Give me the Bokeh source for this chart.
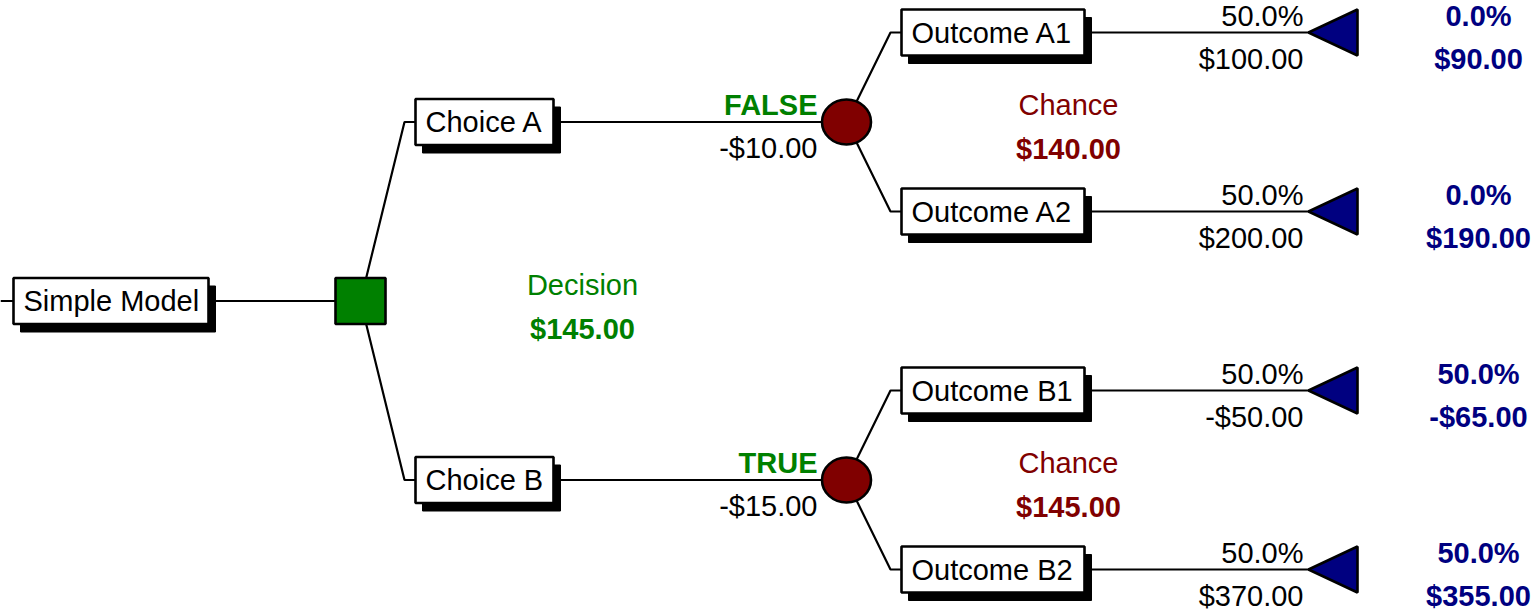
from bokeh.plotting import figure
from bokeh.models import Range1d, ColumnDataSource
from bokeh.core.properties import value
from bokeh.embed import file_html
from bokeh.resources import INLINE

# ---------------- data ----------------
root_name = "Simple Model"
decision_label = "Decision"
decision_value = 145.00
choice_names = ["Choice A", "Choice B"]
choice_flags = ["FALSE", "TRUE"]
choice_costs = [-10.00, -15.00]
chance_label = "Chance"
chance_values = [140.00, 145.00]
outcome_names = ["Outcome A1", "Outcome A2", "Outcome B1", "Outcome B2"]
outcome_parent = [0, 0, 1, 1]
outcome_probs = [50.0, 50.0, 50.0, 50.0]
outcome_payoffs = [100.00, 200.00, -50.00, 370.00]
path_probs = [0.0, 0.0, 50.0, 50.0]
path_values = [90.00, 190.00, -65.00, 355.00]


def money(v):
    return ("-" if v < 0 else "") + "${:,.2f}".format(abs(v))


def pct(v):
    return "{:.1f}%".format(v)


# ---------------- layout (picture pixels) ----------------
ROW0, ROW_STEP = 32, 179
BOX_H = 46
ROOT_BOX = (13, 208)
SQ_X, SQ_W, SQ_H = 360, 50, 46
ELBOW1 = 404
CHOICE_BOX = (415, 553)
CIRC_X, CIRC_W, CIRC_H = 846, 49, 45
ELBOW2 = 890
OUT_BOX = (901, 1084)
TRI_TIP, TRI_RIGHT, TRI_HALF = 1308, 1357, 23
PAD = 10
ABOVE, BELOW = -17, 26
RIGHT_COL = 1478
DEC_LABEL_X = 582
CHANCE_LABEL_X = 1068
SH_DX, SH_DY = 7, 8
LINE_W = 2.2
BORDER_W = 2.6

GREEN = "#008000"
DARKRED = "#800000"
NAVY = "#000080"
FONT = value("Liberation Sans")
FS = value("29px")

out_y = [ROW0 + i * ROW_STEP for i in range(len(outcome_names))]
choice_y = []
for c in range(len(choice_names)):
    ys = [out_y[i] for i in range(len(outcome_names)) if outcome_parent[i] == c]
    choice_y.append(sum(ys) / len(ys))
root_y = sum(choice_y) / len(choice_y)

W, H = 1531, 612
p = figure(width=W, height=H, x_range=Range1d(0, W), y_range=Range1d(H, 0),
           output_backend="svg", toolbar_location=None,
           x_axis_location=None, y_axis_location=None,
           min_border=0, min_border_left=0, min_border_right=0,
           min_border_top=0, min_border_bottom=0)
p.grid.visible = False
p.outline_line_color = None
p.background_fill_color = "white"
p.border_fill_color = "white"

# ---------------- connection lines ----------------
xs, ys = [], []
xs.append([0, ROOT_BOX[0]]); ys.append([root_y, root_y])
xs.append([ROOT_BOX[1], SQ_X]); ys.append([root_y, root_y])
for c, cy in enumerate(choice_y):
    xs.append([SQ_X, ELBOW1, CHOICE_BOX[0]]); ys.append([root_y, cy, cy])
    xs.append([CHOICE_BOX[1], CIRC_X]); ys.append([cy, cy])
for i, oy in enumerate(out_y):
    cy = choice_y[outcome_parent[i]]
    xs.append([CIRC_X, ELBOW2, OUT_BOX[0]]); ys.append([cy, oy, oy])
    xs.append([OUT_BOX[1], TRI_TIP]); ys.append([oy, oy])
p.multi_line(xs=xs, ys=ys, line_color="black", line_width=LINE_W)

# ---------------- boxes ----------------
bl, br, bt, bb = [], [], [], []
bl.append(ROOT_BOX[0]); br.append(ROOT_BOX[1]); bt.append(root_y - BOX_H / 2); bb.append(root_y + BOX_H / 2)
for cy in choice_y:
    bl.append(CHOICE_BOX[0]); br.append(CHOICE_BOX[1]); bt.append(cy - BOX_H / 2); bb.append(cy + BOX_H / 2)
for oy in out_y:
    bl.append(OUT_BOX[0]); br.append(OUT_BOX[1]); bt.append(oy - BOX_H / 2); bb.append(oy + BOX_H / 2)
p.quad(left=[v + SH_DX for v in bl], right=[v + SH_DX for v in br],
       top=[v + SH_DY for v in bt], bottom=[v + SH_DY for v in bb],
       fill_color="black", line_color="black", line_width=1)
p.quad(left=bl, right=br, top=bt, bottom=bb, fill_color="white", line_color="black", line_width=BORDER_W)

# ---------------- nodes ----------------
p.rect(x=[SQ_X], y=[root_y], width=SQ_W, height=SQ_H, fill_color=GREEN, line_color="black", line_width=BORDER_W)
p.ellipse(x=[CIRC_X] * len(choice_y), y=choice_y, width=CIRC_W, height=CIRC_H,
          fill_color=DARKRED, line_color="black", line_width=BORDER_W)
tx = [[TRI_TIP, TRI_RIGHT, TRI_RIGHT] for _ in out_y]
ty = [[oy, oy - TRI_HALF, oy + TRI_HALF] for oy in out_y]
p.patches(xs=tx, ys=ty, fill_color=NAVY, line_color="black", line_width=BORDER_W)


# ---------------- texts ----------------
def txt(x, y, t, color="black", align="left", bold=False):
    src = ColumnDataSource(dict(x=x, y=y, t=t))
    p.text(x="x", y="y", text="t", source=src, text_font=FONT, text_font_size=FS,
           text_color=color, text_align=align, text_baseline="middle",
           text_font_style="bold" if bold else "normal")


txt([ROOT_BOX[0] + PAD] * 1, [root_y], [root_name])
txt([CHOICE_BOX[0] + PAD] * len(choice_y), choice_y, choice_names)
txt([OUT_BOX[0] + PAD] * len(out_y), out_y, outcome_names)

txt([CIRC_X - 29] * len(choice_y), [y + ABOVE for y in choice_y], choice_flags, GREEN, "right", True)
txt([CIRC_X - 29] * len(choice_y), [y + BELOW for y in choice_y], [money(v) for v in choice_costs], "black", "right")

txt([DEC_LABEL_X], [root_y - 16], [decision_label], GREEN, "center")
txt([DEC_LABEL_X], [root_y + 28], [money(decision_value)], GREEN, "center", True)

txt([CHANCE_LABEL_X] * len(choice_y), [y + ABOVE for y in choice_y], [chance_label] * len(choice_y), DARKRED, "center")
txt([CHANCE_LABEL_X] * len(choice_y), [y + BELOW + 1 for y in choice_y], [money(v) for v in chance_values], DARKRED, "center", True)

txt([TRI_TIP - 5] * len(out_y), [y + ABOVE for y in out_y], [pct(v) for v in outcome_probs], "black", "right")
txt([TRI_TIP - 5] * len(out_y), [y + BELOW for y in out_y], [money(v) for v in outcome_payoffs], "black", "right")

txt([RIGHT_COL] * len(out_y), [y + ABOVE for y in out_y], [pct(v) for v in path_probs], NAVY, "center", True)
txt([RIGHT_COL] * len(out_y), [y + BELOW for y in out_y], [money(v) for v in path_values], NAVY, "center", True)

open("out.html", "w").write(file_html(p, INLINE))
